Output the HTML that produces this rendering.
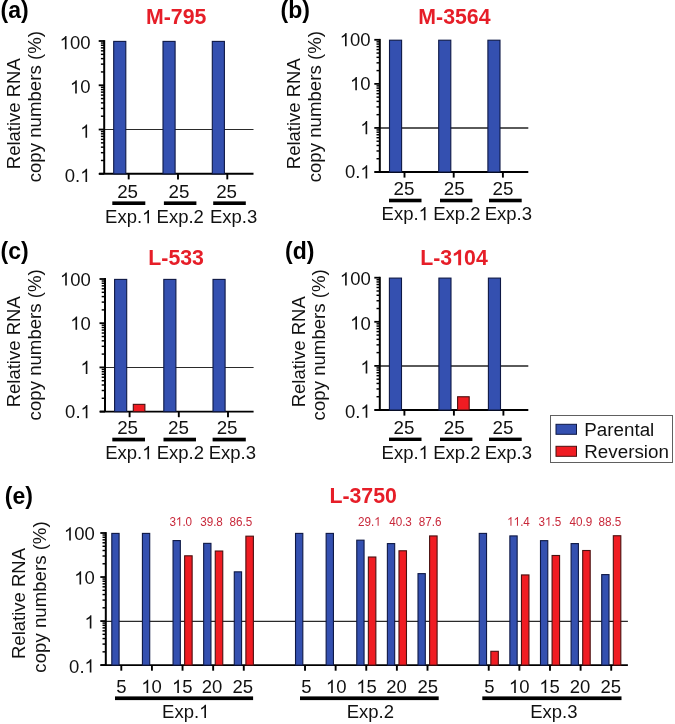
<!DOCTYPE html><html><head><meta charset="utf-8"><style>html,body{margin:0;padding:0;background:#fff;}svg{display:block;will-change:transform;}</style></head><body><svg width="675" height="724" viewBox="0 0 675 724" font-family="Liberation Sans, sans-serif">
<rect width="675" height="724" fill="#fff"/>
<line x1="104.2" y1="129.53" x2="253.5" y2="129.53" stroke="#2a2a2a" stroke-width="1.1"/>
<line x1="100.90" y1="160.47" x2="104.2" y2="160.47" stroke="#000" stroke-width="1.45"/>
<line x1="100.90" y1="152.68" x2="104.2" y2="152.68" stroke="#000" stroke-width="1.45"/>
<line x1="100.90" y1="147.15" x2="104.2" y2="147.15" stroke="#000" stroke-width="1.45"/>
<line x1="100.90" y1="142.86" x2="104.2" y2="142.86" stroke="#000" stroke-width="1.45"/>
<line x1="100.90" y1="139.35" x2="104.2" y2="139.35" stroke="#000" stroke-width="1.45"/>
<line x1="100.90" y1="136.39" x2="104.2" y2="136.39" stroke="#000" stroke-width="1.45"/>
<line x1="100.90" y1="133.82" x2="104.2" y2="133.82" stroke="#000" stroke-width="1.45"/>
<line x1="100.90" y1="131.56" x2="104.2" y2="131.56" stroke="#000" stroke-width="1.45"/>
<line x1="100.90" y1="116.21" x2="104.2" y2="116.21" stroke="#000" stroke-width="1.45"/>
<line x1="100.90" y1="108.41" x2="104.2" y2="108.41" stroke="#000" stroke-width="1.45"/>
<line x1="100.90" y1="102.88" x2="104.2" y2="102.88" stroke="#000" stroke-width="1.45"/>
<line x1="100.90" y1="98.59" x2="104.2" y2="98.59" stroke="#000" stroke-width="1.45"/>
<line x1="100.90" y1="95.09" x2="104.2" y2="95.09" stroke="#000" stroke-width="1.45"/>
<line x1="100.90" y1="92.12" x2="104.2" y2="92.12" stroke="#000" stroke-width="1.45"/>
<line x1="100.90" y1="89.56" x2="104.2" y2="89.56" stroke="#000" stroke-width="1.45"/>
<line x1="100.90" y1="87.29" x2="104.2" y2="87.29" stroke="#000" stroke-width="1.45"/>
<line x1="100.90" y1="71.94" x2="104.2" y2="71.94" stroke="#000" stroke-width="1.45"/>
<line x1="100.90" y1="64.15" x2="104.2" y2="64.15" stroke="#000" stroke-width="1.45"/>
<line x1="100.90" y1="58.62" x2="104.2" y2="58.62" stroke="#000" stroke-width="1.45"/>
<line x1="100.90" y1="54.33" x2="104.2" y2="54.33" stroke="#000" stroke-width="1.45"/>
<line x1="100.90" y1="50.82" x2="104.2" y2="50.82" stroke="#000" stroke-width="1.45"/>
<line x1="100.90" y1="47.86" x2="104.2" y2="47.86" stroke="#000" stroke-width="1.45"/>
<line x1="100.90" y1="45.29" x2="104.2" y2="45.29" stroke="#000" stroke-width="1.45"/>
<line x1="100.90" y1="43.03" x2="104.2" y2="43.03" stroke="#000" stroke-width="1.45"/>
<line x1="98.70" y1="41.00" x2="104.2" y2="41.00" stroke="#000" stroke-width="1.8"/>
<line x1="98.70" y1="85.27" x2="104.2" y2="85.27" stroke="#000" stroke-width="1.8"/>
<line x1="98.70" y1="129.53" x2="104.2" y2="129.53" stroke="#000" stroke-width="1.8"/>
<line x1="98.70" y1="173.80" x2="104.2" y2="173.80" stroke="#000" stroke-width="1.8"/>
<line x1="104.2" y1="40.10" x2="104.2" y2="173.80" stroke="#000" stroke-width="2"/>
<line x1="99.10" y1="173.80" x2="253.5" y2="173.80" stroke="#000" stroke-width="1.9"/>
<line x1="128.70" y1="173.80" x2="128.70" y2="179.40" stroke="#000" stroke-width="1.9"/>
<line x1="178.00" y1="173.80" x2="178.00" y2="179.40" stroke="#000" stroke-width="1.9"/>
<line x1="227.30" y1="173.80" x2="227.30" y2="179.40" stroke="#000" stroke-width="1.9"/>
<rect x="113.70" y="41.40" width="12.10" height="132.40" fill="#3450b0" stroke="#0e1845" stroke-width="1.1"/>
<text transform="translate(127.60,197.60) scale(1,0.98)" font-size="18.8" text-anchor="middle" font-weight="normal" fill="#111" style="font-kerning:none" >25</text>
<rect x="112.30" y="201.40" width="33.00" height="3.60" fill="#000"/>
<path transform="translate(142.11,223.30) scale(0.00903,-0.00939)" d="M763,0L583,0L583,1098Q518,1038 412.5,979Q307,920 223,890L223,1057Q374,1125 486.5,1221Q599,1317 646,1409L763,1409Z" fill="#111"/>
<text transform="translate(128.75,223.30) scale(1,1.04)" font-size="18.5" text-anchor="middle" font-weight="normal" fill="#111" style="font-kerning:none" >Exp. </text>
<rect x="163.00" y="41.40" width="12.10" height="132.40" fill="#3450b0" stroke="#0e1845" stroke-width="1.1"/>
<text transform="translate(178.90,197.60) scale(1,0.98)" font-size="18.8" text-anchor="middle" font-weight="normal" fill="#111" style="font-kerning:none" >25</text>
<rect x="163.90" y="201.40" width="32.50" height="3.60" fill="#000"/>
<text transform="translate(180.25,223.30) scale(1,1.04)" font-size="18.5" text-anchor="middle" font-weight="normal" fill="#111" style="font-kerning:none" >Exp.2</text>
<rect x="212.30" y="41.40" width="12.10" height="132.40" fill="#3450b0" stroke="#0e1845" stroke-width="1.1"/>
<text transform="translate(226.60,197.60) scale(1,0.98)" font-size="18.8" text-anchor="middle" font-weight="normal" fill="#111" style="font-kerning:none" >25</text>
<rect x="213.20" y="201.40" width="32.60" height="3.60" fill="#000"/>
<text transform="translate(233.60,223.30) scale(1,1.04)" font-size="18.5" text-anchor="middle" font-weight="normal" fill="#111" style="font-kerning:none" >Exp.3</text>
<path transform="translate(59.63,49.21) scale(0.00903,-0.00939)" d="M763,0L583,0L583,1098Q518,1038 412.5,979Q307,920 223,890L223,1057Q374,1125 486.5,1221Q599,1317 646,1409L763,1409Z" fill="#111"/>
<text transform="translate(90.50,49.21) scale(1,1.04)" font-size="18.5" text-anchor="end" font-weight="normal" fill="#111" style="font-kerning:none" > 00</text>
<path transform="translate(69.92,93.48) scale(0.00903,-0.00939)" d="M763,0L583,0L583,1098Q518,1038 412.5,979Q307,920 223,890L223,1057Q374,1125 486.5,1221Q599,1317 646,1409L763,1409Z" fill="#111"/>
<text transform="translate(90.50,93.48) scale(1,1.04)" font-size="18.5" text-anchor="end" font-weight="normal" fill="#111" style="font-kerning:none" > 0</text>
<path transform="translate(80.21,137.75) scale(0.00903,-0.00939)" d="M763,0L583,0L583,1098Q518,1038 412.5,979Q307,920 223,890L223,1057Q374,1125 486.5,1221Q599,1317 646,1409L763,1409Z" fill="#111"/>
<text transform="translate(90.50,137.75) scale(1,1.04)" font-size="18.5" text-anchor="end" font-weight="normal" fill="#111" style="font-kerning:none" > </text>
<path transform="translate(80.21,182.01) scale(0.00903,-0.00939)" d="M763,0L583,0L583,1098Q518,1038 412.5,979Q307,920 223,890L223,1057Q374,1125 486.5,1221Q599,1317 646,1409L763,1409Z" fill="#111"/>
<text transform="translate(90.50,182.01) scale(1,1.04)" font-size="18.5" text-anchor="end" font-weight="normal" fill="#111" style="font-kerning:none" >0. </text>
<text transform="translate(176.20,23.60) scale(1,1.05)" font-size="21.3" text-anchor="middle" font-weight="bold" fill="#e61e28" style="font-kerning:none" >M-795</text>
<text transform="translate(0.50,18.30) scale(1,1.0)" font-size="23" text-anchor="start" font-weight="bold" fill="#000" style="font-kerning:none" >(a)</text>
<text transform="translate(20.40,113.70) rotate(-90)" font-size="18.5" text-anchor="middle" fill="#111" style="font-kerning:none">Relative RNA</text>
<text transform="translate(40.70,106.70) rotate(-90)" font-size="18.65" text-anchor="middle" fill="#111" style="font-kerning:none">copy numbers (%)</text>
<line x1="379.8" y1="127.93" x2="528.3" y2="127.93" stroke="#5a5a5a" stroke-width="2.0"/>
<line x1="376.50" y1="158.73" x2="379.8" y2="158.73" stroke="#000" stroke-width="1.45"/>
<line x1="376.50" y1="150.97" x2="379.8" y2="150.97" stroke="#000" stroke-width="1.45"/>
<line x1="376.50" y1="145.47" x2="379.8" y2="145.47" stroke="#000" stroke-width="1.45"/>
<line x1="376.50" y1="141.20" x2="379.8" y2="141.20" stroke="#000" stroke-width="1.45"/>
<line x1="376.50" y1="137.71" x2="379.8" y2="137.71" stroke="#000" stroke-width="1.45"/>
<line x1="376.50" y1="134.76" x2="379.8" y2="134.76" stroke="#000" stroke-width="1.45"/>
<line x1="376.50" y1="132.20" x2="379.8" y2="132.20" stroke="#000" stroke-width="1.45"/>
<line x1="376.50" y1="129.95" x2="379.8" y2="129.95" stroke="#000" stroke-width="1.45"/>
<line x1="376.50" y1="114.67" x2="379.8" y2="114.67" stroke="#000" stroke-width="1.45"/>
<line x1="376.50" y1="106.91" x2="379.8" y2="106.91" stroke="#000" stroke-width="1.45"/>
<line x1="376.50" y1="101.40" x2="379.8" y2="101.40" stroke="#000" stroke-width="1.45"/>
<line x1="376.50" y1="97.13" x2="379.8" y2="97.13" stroke="#000" stroke-width="1.45"/>
<line x1="376.50" y1="93.64" x2="379.8" y2="93.64" stroke="#000" stroke-width="1.45"/>
<line x1="376.50" y1="90.69" x2="379.8" y2="90.69" stroke="#000" stroke-width="1.45"/>
<line x1="376.50" y1="88.14" x2="379.8" y2="88.14" stroke="#000" stroke-width="1.45"/>
<line x1="376.50" y1="85.88" x2="379.8" y2="85.88" stroke="#000" stroke-width="1.45"/>
<line x1="376.50" y1="70.60" x2="379.8" y2="70.60" stroke="#000" stroke-width="1.45"/>
<line x1="376.50" y1="62.84" x2="379.8" y2="62.84" stroke="#000" stroke-width="1.45"/>
<line x1="376.50" y1="57.34" x2="379.8" y2="57.34" stroke="#000" stroke-width="1.45"/>
<line x1="376.50" y1="53.07" x2="379.8" y2="53.07" stroke="#000" stroke-width="1.45"/>
<line x1="376.50" y1="49.58" x2="379.8" y2="49.58" stroke="#000" stroke-width="1.45"/>
<line x1="376.50" y1="46.63" x2="379.8" y2="46.63" stroke="#000" stroke-width="1.45"/>
<line x1="376.50" y1="44.07" x2="379.8" y2="44.07" stroke="#000" stroke-width="1.45"/>
<line x1="376.50" y1="41.82" x2="379.8" y2="41.82" stroke="#000" stroke-width="1.45"/>
<line x1="374.30" y1="39.80" x2="379.8" y2="39.80" stroke="#000" stroke-width="1.8"/>
<line x1="374.30" y1="83.87" x2="379.8" y2="83.87" stroke="#000" stroke-width="1.8"/>
<line x1="374.30" y1="127.93" x2="379.8" y2="127.93" stroke="#000" stroke-width="1.8"/>
<line x1="374.30" y1="172.00" x2="379.8" y2="172.00" stroke="#000" stroke-width="1.8"/>
<line x1="379.8" y1="38.90" x2="379.8" y2="172.00" stroke="#000" stroke-width="2"/>
<line x1="374.70" y1="172.00" x2="528.3" y2="172.00" stroke="#000" stroke-width="1.9"/>
<line x1="404.50" y1="172.00" x2="404.50" y2="177.60" stroke="#000" stroke-width="1.9"/>
<line x1="453.70" y1="172.00" x2="453.70" y2="177.60" stroke="#000" stroke-width="1.9"/>
<line x1="502.90" y1="172.00" x2="502.90" y2="177.60" stroke="#000" stroke-width="1.9"/>
<rect x="389.50" y="40.20" width="12.10" height="131.80" fill="#3450b0" stroke="#0e1845" stroke-width="1.1"/>
<text transform="translate(404.00,194.80) scale(1,0.98)" font-size="18.8" text-anchor="middle" font-weight="normal" fill="#111" style="font-kerning:none" >25</text>
<rect x="389.00" y="198.70" width="32.50" height="3.60" fill="#000"/>
<path transform="translate(418.61,220.20) scale(0.00903,-0.00939)" d="M763,0L583,0L583,1098Q518,1038 412.5,979Q307,920 223,890L223,1057Q374,1125 486.5,1221Q599,1317 646,1409L763,1409Z" fill="#111"/>
<text transform="translate(405.25,220.20) scale(1,1.04)" font-size="18.5" text-anchor="middle" font-weight="normal" fill="#111" style="font-kerning:none" >Exp. </text>
<rect x="438.70" y="40.20" width="12.10" height="131.80" fill="#3450b0" stroke="#0e1845" stroke-width="1.1"/>
<text transform="translate(454.30,194.80) scale(1,0.98)" font-size="18.8" text-anchor="middle" font-weight="normal" fill="#111" style="font-kerning:none" >25</text>
<rect x="440.00" y="198.70" width="32.40" height="3.60" fill="#000"/>
<text transform="translate(456.80,220.20) scale(1,1.04)" font-size="18.5" text-anchor="middle" font-weight="normal" fill="#111" style="font-kerning:none" >Exp.2</text>
<rect x="487.90" y="40.20" width="12.10" height="131.80" fill="#3450b0" stroke="#0e1845" stroke-width="1.1"/>
<text transform="translate(503.00,194.80) scale(1,0.98)" font-size="18.8" text-anchor="middle" font-weight="normal" fill="#111" style="font-kerning:none" >25</text>
<rect x="489.00" y="198.70" width="32.70" height="3.60" fill="#000"/>
<text transform="translate(508.30,220.20) scale(1,1.04)" font-size="18.5" text-anchor="middle" font-weight="normal" fill="#111" style="font-kerning:none" >Exp.3</text>
<path transform="translate(339.73,46.21) scale(0.00903,-0.00939)" d="M763,0L583,0L583,1098Q518,1038 412.5,979Q307,920 223,890L223,1057Q374,1125 486.5,1221Q599,1317 646,1409L763,1409Z" fill="#111"/>
<text transform="translate(370.60,46.21) scale(1,1.04)" font-size="18.5" text-anchor="end" font-weight="normal" fill="#111" style="font-kerning:none" > 00</text>
<path transform="translate(350.02,90.28) scale(0.00903,-0.00939)" d="M763,0L583,0L583,1098Q518,1038 412.5,979Q307,920 223,890L223,1057Q374,1125 486.5,1221Q599,1317 646,1409L763,1409Z" fill="#111"/>
<text transform="translate(370.60,90.28) scale(1,1.04)" font-size="18.5" text-anchor="end" font-weight="normal" fill="#111" style="font-kerning:none" > 0</text>
<path transform="translate(360.31,134.35) scale(0.00903,-0.00939)" d="M763,0L583,0L583,1098Q518,1038 412.5,979Q307,920 223,890L223,1057Q374,1125 486.5,1221Q599,1317 646,1409L763,1409Z" fill="#111"/>
<text transform="translate(370.60,134.35) scale(1,1.04)" font-size="18.5" text-anchor="end" font-weight="normal" fill="#111" style="font-kerning:none" > </text>
<path transform="translate(360.31,178.41) scale(0.00903,-0.00939)" d="M763,0L583,0L583,1098Q518,1038 412.5,979Q307,920 223,890L223,1057Q374,1125 486.5,1221Q599,1317 646,1409L763,1409Z" fill="#111"/>
<text transform="translate(370.60,178.41) scale(1,1.04)" font-size="18.5" text-anchor="end" font-weight="normal" fill="#111" style="font-kerning:none" >0. </text>
<text transform="translate(454.40,23.60) scale(1,1.05)" font-size="21.3" text-anchor="middle" font-weight="bold" fill="#e61e28" style="font-kerning:none" >M-3564</text>
<text transform="translate(280.50,18.40) scale(1,1.0)" font-size="23" text-anchor="start" font-weight="bold" fill="#000" style="font-kerning:none" >(b)</text>
<text transform="translate(300.40,113.70) rotate(-90)" font-size="18.5" text-anchor="middle" fill="#111" style="font-kerning:none">Relative RNA</text>
<text transform="translate(320.70,106.70) rotate(-90)" font-size="18.65" text-anchor="middle" fill="#111" style="font-kerning:none">copy numbers (%)</text>
<line x1="105.0" y1="367.50" x2="253.6" y2="367.50" stroke="#2a2a2a" stroke-width="1.1"/>
<line x1="101.70" y1="398.29" x2="105.0" y2="398.29" stroke="#000" stroke-width="1.45"/>
<line x1="101.70" y1="390.51" x2="105.0" y2="390.51" stroke="#000" stroke-width="1.45"/>
<line x1="101.70" y1="384.99" x2="105.0" y2="384.99" stroke="#000" stroke-width="1.45"/>
<line x1="101.70" y1="380.71" x2="105.0" y2="380.71" stroke="#000" stroke-width="1.45"/>
<line x1="101.70" y1="377.21" x2="105.0" y2="377.21" stroke="#000" stroke-width="1.45"/>
<line x1="101.70" y1="374.25" x2="105.0" y2="374.25" stroke="#000" stroke-width="1.45"/>
<line x1="101.70" y1="371.68" x2="105.0" y2="371.68" stroke="#000" stroke-width="1.45"/>
<line x1="101.70" y1="369.42" x2="105.0" y2="369.42" stroke="#000" stroke-width="1.45"/>
<line x1="101.70" y1="354.09" x2="105.0" y2="354.09" stroke="#000" stroke-width="1.45"/>
<line x1="101.70" y1="346.31" x2="105.0" y2="346.31" stroke="#000" stroke-width="1.45"/>
<line x1="101.70" y1="340.79" x2="105.0" y2="340.79" stroke="#000" stroke-width="1.45"/>
<line x1="101.70" y1="336.51" x2="105.0" y2="336.51" stroke="#000" stroke-width="1.45"/>
<line x1="101.70" y1="333.01" x2="105.0" y2="333.01" stroke="#000" stroke-width="1.45"/>
<line x1="101.70" y1="330.05" x2="105.0" y2="330.05" stroke="#000" stroke-width="1.45"/>
<line x1="101.70" y1="327.48" x2="105.0" y2="327.48" stroke="#000" stroke-width="1.45"/>
<line x1="101.70" y1="325.22" x2="105.0" y2="325.22" stroke="#000" stroke-width="1.45"/>
<line x1="101.70" y1="309.89" x2="105.0" y2="309.89" stroke="#000" stroke-width="1.45"/>
<line x1="101.70" y1="302.11" x2="105.0" y2="302.11" stroke="#000" stroke-width="1.45"/>
<line x1="101.70" y1="296.59" x2="105.0" y2="296.59" stroke="#000" stroke-width="1.45"/>
<line x1="101.70" y1="292.31" x2="105.0" y2="292.31" stroke="#000" stroke-width="1.45"/>
<line x1="101.70" y1="288.81" x2="105.0" y2="288.81" stroke="#000" stroke-width="1.45"/>
<line x1="101.70" y1="285.85" x2="105.0" y2="285.85" stroke="#000" stroke-width="1.45"/>
<line x1="101.70" y1="283.28" x2="105.0" y2="283.28" stroke="#000" stroke-width="1.45"/>
<line x1="101.70" y1="281.02" x2="105.0" y2="281.02" stroke="#000" stroke-width="1.45"/>
<line x1="99.50" y1="279.00" x2="105.0" y2="279.00" stroke="#000" stroke-width="1.8"/>
<line x1="99.50" y1="323.20" x2="105.0" y2="323.20" stroke="#000" stroke-width="1.8"/>
<line x1="99.50" y1="367.40" x2="105.0" y2="367.40" stroke="#000" stroke-width="1.8"/>
<line x1="99.50" y1="411.60" x2="105.0" y2="411.60" stroke="#000" stroke-width="1.8"/>
<line x1="105.0" y1="278.10" x2="105.0" y2="411.60" stroke="#000" stroke-width="2"/>
<line x1="99.90" y1="411.60" x2="253.6" y2="411.60" stroke="#000" stroke-width="1.9"/>
<line x1="129.60" y1="411.60" x2="129.60" y2="417.20" stroke="#000" stroke-width="1.9"/>
<line x1="178.80" y1="411.60" x2="178.80" y2="417.20" stroke="#000" stroke-width="1.9"/>
<line x1="228.00" y1="411.60" x2="228.00" y2="417.20" stroke="#000" stroke-width="1.9"/>
<rect x="114.60" y="279.40" width="12.10" height="132.20" fill="#3450b0" stroke="#0e1845" stroke-width="1.1"/>
<rect x="133.30" y="404.35" width="11.60" height="7.25" fill="#f01c22" stroke="#4a1010" stroke-width="1.1"/>
<text transform="translate(127.60,433.80) scale(1,0.98)" font-size="18.8" text-anchor="middle" font-weight="normal" fill="#111" style="font-kerning:none" >25</text>
<rect x="112.30" y="437.70" width="32.70" height="3.70" fill="#000"/>
<path transform="translate(142.16,459.20) scale(0.00903,-0.00939)" d="M763,0L583,0L583,1098Q518,1038 412.5,979Q307,920 223,890L223,1057Q374,1125 486.5,1221Q599,1317 646,1409L763,1409Z" fill="#111"/>
<text transform="translate(128.80,459.20) scale(1,1.04)" font-size="18.5" text-anchor="middle" font-weight="normal" fill="#111" style="font-kerning:none" >Exp. </text>
<rect x="163.80" y="279.40" width="12.10" height="132.20" fill="#3450b0" stroke="#0e1845" stroke-width="1.1"/>
<text transform="translate(178.50,433.80) scale(1,0.98)" font-size="18.8" text-anchor="middle" font-weight="normal" fill="#111" style="font-kerning:none" >25</text>
<rect x="163.50" y="437.70" width="32.50" height="3.70" fill="#000"/>
<text transform="translate(180.30,459.20) scale(1,1.04)" font-size="18.5" text-anchor="middle" font-weight="normal" fill="#111" style="font-kerning:none" >Exp.2</text>
<rect x="213.00" y="279.40" width="12.10" height="132.20" fill="#3450b0" stroke="#0e1845" stroke-width="1.1"/>
<text transform="translate(227.10,433.80) scale(1,0.98)" font-size="18.8" text-anchor="middle" font-weight="normal" fill="#111" style="font-kerning:none" >25</text>
<rect x="212.60" y="437.70" width="33.20" height="3.70" fill="#000"/>
<text transform="translate(232.40,459.20) scale(1,1.04)" font-size="18.5" text-anchor="middle" font-weight="normal" fill="#111" style="font-kerning:none" >Exp.3</text>
<path transform="translate(59.93,285.61) scale(0.00903,-0.00939)" d="M763,0L583,0L583,1098Q518,1038 412.5,979Q307,920 223,890L223,1057Q374,1125 486.5,1221Q599,1317 646,1409L763,1409Z" fill="#111"/>
<text transform="translate(90.80,285.61) scale(1,1.04)" font-size="18.5" text-anchor="end" font-weight="normal" fill="#111" style="font-kerning:none" > 00</text>
<path transform="translate(70.22,329.81) scale(0.00903,-0.00939)" d="M763,0L583,0L583,1098Q518,1038 412.5,979Q307,920 223,890L223,1057Q374,1125 486.5,1221Q599,1317 646,1409L763,1409Z" fill="#111"/>
<text transform="translate(90.80,329.81) scale(1,1.04)" font-size="18.5" text-anchor="end" font-weight="normal" fill="#111" style="font-kerning:none" > 0</text>
<path transform="translate(80.51,374.01) scale(0.00903,-0.00939)" d="M763,0L583,0L583,1098Q518,1038 412.5,979Q307,920 223,890L223,1057Q374,1125 486.5,1221Q599,1317 646,1409L763,1409Z" fill="#111"/>
<text transform="translate(90.80,374.01) scale(1,1.04)" font-size="18.5" text-anchor="end" font-weight="normal" fill="#111" style="font-kerning:none" > </text>
<path transform="translate(80.51,418.21) scale(0.00903,-0.00939)" d="M763,0L583,0L583,1098Q518,1038 412.5,979Q307,920 223,890L223,1057Q374,1125 486.5,1221Q599,1317 646,1409L763,1409Z" fill="#111"/>
<text transform="translate(90.80,418.21) scale(1,1.04)" font-size="18.5" text-anchor="end" font-weight="normal" fill="#111" style="font-kerning:none" >0. </text>
<text transform="translate(176.10,264.80) scale(1,1.05)" font-size="21.3" text-anchor="middle" font-weight="bold" fill="#e61e28" style="font-kerning:none" >L-533</text>
<text transform="translate(0.50,259.10) scale(1,1.0)" font-size="23" text-anchor="start" font-weight="bold" fill="#000" style="font-kerning:none" >(c)</text>
<text transform="translate(20.40,351.80) rotate(-90)" font-size="18.5" text-anchor="middle" fill="#111" style="font-kerning:none">Relative RNA</text>
<text transform="translate(40.70,344.80) rotate(-90)" font-size="18.65" text-anchor="middle" fill="#111" style="font-kerning:none">copy numbers (%)</text>
<line x1="379.8" y1="365.90" x2="528.3" y2="365.90" stroke="#5a5a5a" stroke-width="2.0"/>
<line x1="376.50" y1="396.72" x2="379.8" y2="396.72" stroke="#000" stroke-width="1.45"/>
<line x1="376.50" y1="388.96" x2="379.8" y2="388.96" stroke="#000" stroke-width="1.45"/>
<line x1="376.50" y1="383.45" x2="379.8" y2="383.45" stroke="#000" stroke-width="1.45"/>
<line x1="376.50" y1="379.18" x2="379.8" y2="379.18" stroke="#000" stroke-width="1.45"/>
<line x1="376.50" y1="375.68" x2="379.8" y2="375.68" stroke="#000" stroke-width="1.45"/>
<line x1="376.50" y1="372.73" x2="379.8" y2="372.73" stroke="#000" stroke-width="1.45"/>
<line x1="376.50" y1="370.17" x2="379.8" y2="370.17" stroke="#000" stroke-width="1.45"/>
<line x1="376.50" y1="367.92" x2="379.8" y2="367.92" stroke="#000" stroke-width="1.45"/>
<line x1="376.50" y1="352.62" x2="379.8" y2="352.62" stroke="#000" stroke-width="1.45"/>
<line x1="376.50" y1="344.86" x2="379.8" y2="344.86" stroke="#000" stroke-width="1.45"/>
<line x1="376.50" y1="339.35" x2="379.8" y2="339.35" stroke="#000" stroke-width="1.45"/>
<line x1="376.50" y1="335.08" x2="379.8" y2="335.08" stroke="#000" stroke-width="1.45"/>
<line x1="376.50" y1="331.58" x2="379.8" y2="331.58" stroke="#000" stroke-width="1.45"/>
<line x1="376.50" y1="328.63" x2="379.8" y2="328.63" stroke="#000" stroke-width="1.45"/>
<line x1="376.50" y1="326.07" x2="379.8" y2="326.07" stroke="#000" stroke-width="1.45"/>
<line x1="376.50" y1="323.82" x2="379.8" y2="323.82" stroke="#000" stroke-width="1.45"/>
<line x1="376.50" y1="308.52" x2="379.8" y2="308.52" stroke="#000" stroke-width="1.45"/>
<line x1="376.50" y1="300.76" x2="379.8" y2="300.76" stroke="#000" stroke-width="1.45"/>
<line x1="376.50" y1="295.25" x2="379.8" y2="295.25" stroke="#000" stroke-width="1.45"/>
<line x1="376.50" y1="290.98" x2="379.8" y2="290.98" stroke="#000" stroke-width="1.45"/>
<line x1="376.50" y1="287.48" x2="379.8" y2="287.48" stroke="#000" stroke-width="1.45"/>
<line x1="376.50" y1="284.53" x2="379.8" y2="284.53" stroke="#000" stroke-width="1.45"/>
<line x1="376.50" y1="281.97" x2="379.8" y2="281.97" stroke="#000" stroke-width="1.45"/>
<line x1="376.50" y1="279.72" x2="379.8" y2="279.72" stroke="#000" stroke-width="1.45"/>
<line x1="374.30" y1="277.70" x2="379.8" y2="277.70" stroke="#000" stroke-width="1.8"/>
<line x1="374.30" y1="321.80" x2="379.8" y2="321.80" stroke="#000" stroke-width="1.8"/>
<line x1="374.30" y1="365.90" x2="379.8" y2="365.90" stroke="#000" stroke-width="1.8"/>
<line x1="374.30" y1="410.00" x2="379.8" y2="410.00" stroke="#000" stroke-width="1.8"/>
<line x1="379.8" y1="276.80" x2="379.8" y2="410.00" stroke="#000" stroke-width="2"/>
<line x1="374.70" y1="410.00" x2="528.3" y2="410.00" stroke="#000" stroke-width="1.9"/>
<line x1="404.40" y1="410.00" x2="404.40" y2="415.60" stroke="#000" stroke-width="1.9"/>
<line x1="453.90" y1="410.00" x2="453.90" y2="415.60" stroke="#000" stroke-width="1.9"/>
<line x1="503.40" y1="410.00" x2="503.40" y2="415.60" stroke="#000" stroke-width="1.9"/>
<rect x="389.40" y="278.10" width="12.10" height="131.90" fill="#3450b0" stroke="#0e1845" stroke-width="1.1"/>
<text transform="translate(404.00,433.70) scale(1,0.98)" font-size="18.8" text-anchor="middle" font-weight="normal" fill="#111" style="font-kerning:none" >25</text>
<rect x="389.00" y="437.60" width="32.50" height="3.40" fill="#000"/>
<path transform="translate(418.61,459.00) scale(0.00903,-0.00939)" d="M763,0L583,0L583,1098Q518,1038 412.5,979Q307,920 223,890L223,1057Q374,1125 486.5,1221Q599,1317 646,1409L763,1409Z" fill="#111"/>
<text transform="translate(405.25,459.00) scale(1,1.04)" font-size="18.5" text-anchor="middle" font-weight="normal" fill="#111" style="font-kerning:none" >Exp. </text>
<rect x="438.90" y="278.10" width="12.10" height="131.90" fill="#3450b0" stroke="#0e1845" stroke-width="1.1"/>
<rect x="457.60" y="396.75" width="11.60" height="13.25" fill="#f01c22" stroke="#4a1010" stroke-width="1.1"/>
<text transform="translate(454.30,433.70) scale(1,0.98)" font-size="18.8" text-anchor="middle" font-weight="normal" fill="#111" style="font-kerning:none" >25</text>
<rect x="440.00" y="437.60" width="32.40" height="3.40" fill="#000"/>
<text transform="translate(456.80,459.00) scale(1,1.04)" font-size="18.5" text-anchor="middle" font-weight="normal" fill="#111" style="font-kerning:none" >Exp.2</text>
<rect x="488.40" y="278.10" width="12.10" height="131.90" fill="#3450b0" stroke="#0e1845" stroke-width="1.1"/>
<text transform="translate(503.00,433.70) scale(1,0.98)" font-size="18.8" text-anchor="middle" font-weight="normal" fill="#111" style="font-kerning:none" >25</text>
<rect x="489.00" y="437.60" width="32.70" height="3.40" fill="#000"/>
<text transform="translate(508.30,459.00) scale(1,1.04)" font-size="18.5" text-anchor="middle" font-weight="normal" fill="#111" style="font-kerning:none" >Exp.3</text>
<path transform="translate(339.83,285.41) scale(0.00903,-0.00939)" d="M763,0L583,0L583,1098Q518,1038 412.5,979Q307,920 223,890L223,1057Q374,1125 486.5,1221Q599,1317 646,1409L763,1409Z" fill="#111"/>
<text transform="translate(370.70,285.41) scale(1,1.04)" font-size="18.5" text-anchor="end" font-weight="normal" fill="#111" style="font-kerning:none" > 00</text>
<path transform="translate(350.12,329.51) scale(0.00903,-0.00939)" d="M763,0L583,0L583,1098Q518,1038 412.5,979Q307,920 223,890L223,1057Q374,1125 486.5,1221Q599,1317 646,1409L763,1409Z" fill="#111"/>
<text transform="translate(370.70,329.51) scale(1,1.04)" font-size="18.5" text-anchor="end" font-weight="normal" fill="#111" style="font-kerning:none" > 0</text>
<path transform="translate(360.41,373.61) scale(0.00903,-0.00939)" d="M763,0L583,0L583,1098Q518,1038 412.5,979Q307,920 223,890L223,1057Q374,1125 486.5,1221Q599,1317 646,1409L763,1409Z" fill="#111"/>
<text transform="translate(370.70,373.61) scale(1,1.04)" font-size="18.5" text-anchor="end" font-weight="normal" fill="#111" style="font-kerning:none" > </text>
<path transform="translate(360.41,417.71) scale(0.00903,-0.00939)" d="M763,0L583,0L583,1098Q518,1038 412.5,979Q307,920 223,890L223,1057Q374,1125 486.5,1221Q599,1317 646,1409L763,1409Z" fill="#111"/>
<text transform="translate(370.70,417.71) scale(1,1.04)" font-size="18.5" text-anchor="end" font-weight="normal" fill="#111" style="font-kerning:none" >0. </text>
<path transform="translate(452.21,265.20) scale(0.01040,-0.01092)" d="M856,0L575,0L575,1040Q440,930 300,880Q225,853 150,835L150,1080Q300,1130 440,1235Q580,1340 650,1409L856,1409Z" fill="#e61e28"/>
<text transform="translate(454.00,265.20) scale(1,1.05)" font-size="21.3" text-anchor="middle" font-weight="bold" fill="#e61e28" style="font-kerning:none" >L-3 04</text>
<text transform="translate(285.00,258.70) scale(1,1.0)" font-size="23" text-anchor="start" font-weight="bold" fill="#000" style="font-kerning:none" >(d)</text>
<text transform="translate(304.60,351.80) rotate(-90)" font-size="18.5" text-anchor="middle" fill="#111" style="font-kerning:none">Relative RNA</text>
<text transform="translate(324.90,344.80) rotate(-90)" font-size="18.65" text-anchor="middle" fill="#111" style="font-kerning:none">copy numbers (%)</text>
<rect x="550.5" y="415.5" width="122" height="47" fill="#fff" stroke="#606060" stroke-width="1"/>
<rect x="556" y="424.3" width="20.5" height="10" fill="#3450b0" stroke="#0e1845" stroke-width="1"/>
<rect x="556" y="446.3" width="20.5" height="10" fill="#f01c22" stroke="#4a1010" stroke-width="1"/>
<text transform="translate(584.30,436.20) scale(1,1.0)" font-size="18.8" text-anchor="start" font-weight="normal" fill="#111" style="font-kerning:none" >Parental</text>
<text transform="translate(584.30,458.00) scale(1,1.0)" font-size="18.8" text-anchor="start" font-weight="normal" fill="#111" style="font-kerning:none" >Reversion</text>
<line x1="105.8" y1="621.30" x2="627.9" y2="621.30" stroke="#2a2a2a" stroke-width="1.2"/>
<line x1="102.50" y1="651.84" x2="105.8" y2="651.84" stroke="#000" stroke-width="1.45"/>
<line x1="102.50" y1="644.09" x2="105.8" y2="644.09" stroke="#000" stroke-width="1.45"/>
<line x1="102.50" y1="638.59" x2="105.8" y2="638.59" stroke="#000" stroke-width="1.45"/>
<line x1="102.50" y1="634.32" x2="105.8" y2="634.32" stroke="#000" stroke-width="1.45"/>
<line x1="102.50" y1="630.84" x2="105.8" y2="630.84" stroke="#000" stroke-width="1.45"/>
<line x1="102.50" y1="627.89" x2="105.8" y2="627.89" stroke="#000" stroke-width="1.45"/>
<line x1="102.50" y1="625.33" x2="105.8" y2="625.33" stroke="#000" stroke-width="1.45"/>
<line x1="102.50" y1="623.08" x2="105.8" y2="623.08" stroke="#000" stroke-width="1.45"/>
<line x1="102.50" y1="607.81" x2="105.8" y2="607.81" stroke="#000" stroke-width="1.45"/>
<line x1="102.50" y1="600.06" x2="105.8" y2="600.06" stroke="#000" stroke-width="1.45"/>
<line x1="102.50" y1="594.56" x2="105.8" y2="594.56" stroke="#000" stroke-width="1.45"/>
<line x1="102.50" y1="590.29" x2="105.8" y2="590.29" stroke="#000" stroke-width="1.45"/>
<line x1="102.50" y1="586.80" x2="105.8" y2="586.80" stroke="#000" stroke-width="1.45"/>
<line x1="102.50" y1="583.85" x2="105.8" y2="583.85" stroke="#000" stroke-width="1.45"/>
<line x1="102.50" y1="581.30" x2="105.8" y2="581.30" stroke="#000" stroke-width="1.45"/>
<line x1="102.50" y1="579.05" x2="105.8" y2="579.05" stroke="#000" stroke-width="1.45"/>
<line x1="102.50" y1="563.78" x2="105.8" y2="563.78" stroke="#000" stroke-width="1.45"/>
<line x1="102.50" y1="556.02" x2="105.8" y2="556.02" stroke="#000" stroke-width="1.45"/>
<line x1="102.50" y1="550.52" x2="105.8" y2="550.52" stroke="#000" stroke-width="1.45"/>
<line x1="102.50" y1="546.26" x2="105.8" y2="546.26" stroke="#000" stroke-width="1.45"/>
<line x1="102.50" y1="542.77" x2="105.8" y2="542.77" stroke="#000" stroke-width="1.45"/>
<line x1="102.50" y1="539.82" x2="105.8" y2="539.82" stroke="#000" stroke-width="1.45"/>
<line x1="102.50" y1="537.27" x2="105.8" y2="537.27" stroke="#000" stroke-width="1.45"/>
<line x1="102.50" y1="535.01" x2="105.8" y2="535.01" stroke="#000" stroke-width="1.45"/>
<line x1="100.30" y1="533.00" x2="105.8" y2="533.00" stroke="#000" stroke-width="1.8"/>
<line x1="100.30" y1="577.03" x2="105.8" y2="577.03" stroke="#000" stroke-width="1.8"/>
<line x1="100.30" y1="621.07" x2="105.8" y2="621.07" stroke="#000" stroke-width="1.8"/>
<line x1="100.30" y1="665.10" x2="105.8" y2="665.10" stroke="#000" stroke-width="1.8"/>
<line x1="105.8" y1="532.10" x2="105.8" y2="665.10" stroke="#000" stroke-width="2"/>
<line x1="100.70" y1="665.10" x2="627.9" y2="665.10" stroke="#000" stroke-width="1.9"/>
<line x1="121.30" y1="665.10" x2="121.30" y2="670.70" stroke="#000" stroke-width="1.9"/>
<line x1="151.92" y1="665.10" x2="151.92" y2="670.70" stroke="#000" stroke-width="1.9"/>
<line x1="182.54" y1="665.10" x2="182.54" y2="670.70" stroke="#000" stroke-width="1.9"/>
<line x1="213.16" y1="665.10" x2="213.16" y2="670.70" stroke="#000" stroke-width="1.9"/>
<line x1="243.78" y1="665.10" x2="243.78" y2="670.70" stroke="#000" stroke-width="1.9"/>
<line x1="305.02" y1="665.10" x2="305.02" y2="670.70" stroke="#000" stroke-width="1.9"/>
<line x1="335.64" y1="665.10" x2="335.64" y2="670.70" stroke="#000" stroke-width="1.9"/>
<line x1="366.26" y1="665.10" x2="366.26" y2="670.70" stroke="#000" stroke-width="1.9"/>
<line x1="396.88" y1="665.10" x2="396.88" y2="670.70" stroke="#000" stroke-width="1.9"/>
<line x1="427.50" y1="665.10" x2="427.50" y2="670.70" stroke="#000" stroke-width="1.9"/>
<line x1="488.74" y1="665.10" x2="488.74" y2="670.70" stroke="#000" stroke-width="1.9"/>
<line x1="519.36" y1="665.10" x2="519.36" y2="670.70" stroke="#000" stroke-width="1.9"/>
<line x1="549.98" y1="665.10" x2="549.98" y2="670.70" stroke="#000" stroke-width="1.9"/>
<line x1="580.60" y1="665.10" x2="580.60" y2="670.70" stroke="#000" stroke-width="1.9"/>
<line x1="611.22" y1="665.10" x2="611.22" y2="670.70" stroke="#000" stroke-width="1.9"/>
<rect x="111.80" y="533.40" width="7.30" height="131.70" fill="#3450b0" stroke="#0e1845" stroke-width="1.1"/>
<text transform="translate(121.30,693.00) scale(1,1.04)" font-size="18.5" text-anchor="middle" font-weight="normal" fill="#111" style="font-kerning:none" >5</text>
<rect x="142.42" y="533.40" width="7.30" height="131.70" fill="#3450b0" stroke="#0e1845" stroke-width="1.1"/>
<path transform="translate(141.31,693.00) scale(0.00903,-0.00939)" d="M763,0L583,0L583,1098Q518,1038 412.5,979Q307,920 223,890L223,1057Q374,1125 486.5,1221Q599,1317 646,1409L763,1409Z" fill="#111"/>
<text transform="translate(151.60,693.00) scale(1,1.04)" font-size="18.5" text-anchor="middle" font-weight="normal" fill="#111" style="font-kerning:none" > 0</text>
<rect x="173.04" y="540.58" width="7.30" height="124.52" fill="#3450b0" stroke="#0e1845" stroke-width="1.1"/>
<rect x="184.64" y="555.80" width="7.50" height="109.30" fill="#f01c22" stroke="#4a1010" stroke-width="1.1"/>
<path transform="translate(172.01,693.00) scale(0.00903,-0.00939)" d="M763,0L583,0L583,1098Q518,1038 412.5,979Q307,920 223,890L223,1057Q374,1125 486.5,1221Q599,1317 646,1409L763,1409Z" fill="#111"/>
<text transform="translate(182.30,693.00) scale(1,1.04)" font-size="18.5" text-anchor="middle" font-weight="normal" fill="#111" style="font-kerning:none" > 5</text>
<rect x="203.66" y="543.36" width="7.30" height="121.74" fill="#3450b0" stroke="#0e1845" stroke-width="1.1"/>
<rect x="215.26" y="551.02" width="7.50" height="114.08" fill="#f01c22" stroke="#4a1010" stroke-width="1.1"/>
<text transform="translate(212.00,693.00) scale(1,1.04)" font-size="18.5" text-anchor="middle" font-weight="normal" fill="#111" style="font-kerning:none" >20</text>
<rect x="234.28" y="571.84" width="7.30" height="93.26" fill="#3450b0" stroke="#0e1845" stroke-width="1.1"/>
<rect x="245.88" y="536.17" width="7.50" height="128.93" fill="#f01c22" stroke="#4a1010" stroke-width="1.1"/>
<text transform="translate(242.80,693.00) scale(1,1.04)" font-size="18.5" text-anchor="middle" font-weight="normal" fill="#111" style="font-kerning:none" >25</text>
<rect x="295.52" y="533.40" width="7.30" height="131.70" fill="#3450b0" stroke="#0e1845" stroke-width="1.1"/>
<text transform="translate(306.30,693.00) scale(1,1.04)" font-size="18.5" text-anchor="middle" font-weight="normal" fill="#111" style="font-kerning:none" >5</text>
<rect x="326.14" y="533.40" width="7.30" height="131.70" fill="#3450b0" stroke="#0e1845" stroke-width="1.1"/>
<path transform="translate(325.91,693.00) scale(0.00903,-0.00939)" d="M763,0L583,0L583,1098Q518,1038 412.5,979Q307,920 223,890L223,1057Q374,1125 486.5,1221Q599,1317 646,1409L763,1409Z" fill="#111"/>
<text transform="translate(336.20,693.00) scale(1,1.04)" font-size="18.5" text-anchor="middle" font-weight="normal" fill="#111" style="font-kerning:none" > 0</text>
<rect x="356.76" y="540.17" width="7.30" height="124.93" fill="#3450b0" stroke="#0e1845" stroke-width="1.1"/>
<rect x="368.36" y="557.01" width="7.50" height="108.09" fill="#f01c22" stroke="#4a1010" stroke-width="1.1"/>
<path transform="translate(356.31,693.00) scale(0.00903,-0.00939)" d="M763,0L583,0L583,1098Q518,1038 412.5,979Q307,920 223,890L223,1057Q374,1125 486.5,1221Q599,1317 646,1409L763,1409Z" fill="#111"/>
<text transform="translate(366.60,693.00) scale(1,1.04)" font-size="18.5" text-anchor="middle" font-weight="normal" fill="#111" style="font-kerning:none" > 5</text>
<rect x="387.38" y="543.59" width="7.30" height="121.51" fill="#3450b0" stroke="#0e1845" stroke-width="1.1"/>
<rect x="398.98" y="550.78" width="7.50" height="114.32" fill="#f01c22" stroke="#4a1010" stroke-width="1.1"/>
<text transform="translate(396.60,693.00) scale(1,1.04)" font-size="18.5" text-anchor="middle" font-weight="normal" fill="#111" style="font-kerning:none" >20</text>
<rect x="418.00" y="573.63" width="7.30" height="91.47" fill="#3450b0" stroke="#0e1845" stroke-width="1.1"/>
<rect x="429.60" y="535.93" width="7.50" height="129.17" fill="#f01c22" stroke="#4a1010" stroke-width="1.1"/>
<text transform="translate(427.70,693.00) scale(1,1.04)" font-size="18.5" text-anchor="middle" font-weight="normal" fill="#111" style="font-kerning:none" >25</text>
<rect x="479.24" y="533.40" width="7.30" height="131.70" fill="#3450b0" stroke="#0e1845" stroke-width="1.1"/>
<rect x="490.84" y="651.31" width="7.50" height="13.79" fill="#f01c22" stroke="#4a1010" stroke-width="1.1"/>
<text transform="translate(489.30,693.00) scale(1,1.04)" font-size="18.5" text-anchor="middle" font-weight="normal" fill="#111" style="font-kerning:none" >5</text>
<rect x="509.86" y="535.91" width="7.30" height="129.19" fill="#3450b0" stroke="#0e1845" stroke-width="1.1"/>
<rect x="521.46" y="574.93" width="7.50" height="90.17" fill="#f01c22" stroke="#4a1010" stroke-width="1.1"/>
<path transform="translate(508.91,693.00) scale(0.00903,-0.00939)" d="M763,0L583,0L583,1098Q518,1038 412.5,979Q307,920 223,890L223,1057Q374,1125 486.5,1221Q599,1317 646,1409L763,1409Z" fill="#111"/>
<text transform="translate(519.20,693.00) scale(1,1.04)" font-size="18.5" text-anchor="middle" font-weight="normal" fill="#111" style="font-kerning:none" > 0</text>
<rect x="540.48" y="540.66" width="7.30" height="124.44" fill="#3450b0" stroke="#0e1845" stroke-width="1.1"/>
<rect x="552.08" y="555.49" width="7.50" height="109.61" fill="#f01c22" stroke="#4a1010" stroke-width="1.1"/>
<path transform="translate(539.31,693.00) scale(0.00903,-0.00939)" d="M763,0L583,0L583,1098Q518,1038 412.5,979Q307,920 223,890L223,1057Q374,1125 486.5,1221Q599,1317 646,1409L763,1409Z" fill="#111"/>
<text transform="translate(549.60,693.00) scale(1,1.04)" font-size="18.5" text-anchor="middle" font-weight="normal" fill="#111" style="font-kerning:none" > 5</text>
<rect x="571.10" y="543.59" width="7.30" height="121.51" fill="#3450b0" stroke="#0e1845" stroke-width="1.1"/>
<rect x="582.70" y="550.50" width="7.50" height="114.60" fill="#f01c22" stroke="#4a1010" stroke-width="1.1"/>
<text transform="translate(580.00,693.00) scale(1,1.04)" font-size="18.5" text-anchor="middle" font-weight="normal" fill="#111" style="font-kerning:none" >20</text>
<rect x="601.72" y="574.60" width="7.30" height="90.50" fill="#3450b0" stroke="#0e1845" stroke-width="1.1"/>
<rect x="613.32" y="535.74" width="7.50" height="129.36" fill="#f01c22" stroke="#4a1010" stroke-width="1.1"/>
<text transform="translate(610.80,693.00) scale(1,1.04)" font-size="18.5" text-anchor="middle" font-weight="normal" fill="#111" style="font-kerning:none" >25</text>
<rect x="115" y="696.4" width="138.10" height="3.7" fill="#000"/>
<path transform="translate(199.11,717.90) scale(0.00903,-0.00939)" d="M763,0L583,0L583,1098Q518,1038 412.5,979Q307,920 223,890L223,1057Q374,1125 486.5,1221Q599,1317 646,1409L763,1409Z" fill="#111"/>
<text transform="translate(185.75,717.90) scale(1,1.04)" font-size="18.5" text-anchor="middle" font-weight="normal" fill="#111" style="font-kerning:none" >Exp. </text>
<rect x="300" y="696.4" width="138.70" height="3.7" fill="#000"/>
<text transform="translate(370.30,717.90) scale(1,1.04)" font-size="18.5" text-anchor="middle" font-weight="normal" fill="#111" style="font-kerning:none" >Exp.2</text>
<rect x="482.3" y="696.4" width="139.20" height="3.7" fill="#000"/>
<text transform="translate(553.80,717.90) scale(1,1.04)" font-size="18.5" text-anchor="middle" font-weight="normal" fill="#111" style="font-kerning:none" >Exp.3</text>
<path transform="translate(175.87,525.70) scale(0.00571,-0.00623)" d="M763,0L583,0L583,1098Q518,1038 412.5,979Q307,920 223,890L223,1057Q374,1125 486.5,1221Q599,1317 646,1409L763,1409Z" fill="#c8283a"/>
<text transform="translate(180.75,525.70) scale(1,1.09)" font-size="11.7" text-anchor="middle" font-weight="normal" fill="#c8283a" style="font-kerning:none" >3 .0</text>
<text transform="translate(211.50,525.70) scale(1,1.09)" font-size="11.7" text-anchor="middle" font-weight="normal" fill="#c8283a" style="font-kerning:none" >39.8</text>
<text transform="translate(240.90,525.70) scale(1,1.09)" font-size="11.7" text-anchor="middle" font-weight="normal" fill="#c8283a" style="font-kerning:none" >86.5</text>
<path transform="translate(374.28,525.70) scale(0.00571,-0.00623)" d="M763,0L583,0L583,1098Q518,1038 412.5,979Q307,920 223,890L223,1057Q374,1125 486.5,1221Q599,1317 646,1409L763,1409Z" fill="#c8283a"/>
<text transform="translate(369.40,525.70) scale(1,1.09)" font-size="11.7" text-anchor="middle" font-weight="normal" fill="#c8283a" style="font-kerning:none" >29. </text>
<text transform="translate(400.50,525.70) scale(1,1.09)" font-size="11.7" text-anchor="middle" font-weight="normal" fill="#c8283a" style="font-kerning:none" >40.3</text>
<text transform="translate(430.10,525.70) scale(1,1.09)" font-size="11.7" text-anchor="middle" font-weight="normal" fill="#c8283a" style="font-kerning:none" >87.6</text>
<path transform="translate(507.11,525.70) scale(0.00571,-0.00623)" d="M763,0L583,0L583,1098Q518,1038 412.5,979Q307,920 223,890L223,1057Q374,1125 486.5,1221Q599,1317 646,1409L763,1409Z" fill="#c8283a"/>
<path transform="translate(513.62,525.70) scale(0.00571,-0.00623)" d="M763,0L583,0L583,1098Q518,1038 412.5,979Q307,920 223,890L223,1057Q374,1125 486.5,1221Q599,1317 646,1409L763,1409Z" fill="#c8283a"/>
<text transform="translate(518.50,525.70) scale(1,1.09)" font-size="11.7" text-anchor="middle" font-weight="normal" fill="#c8283a" style="font-kerning:none" >  .4</text>
<path transform="translate(545.02,525.70) scale(0.00571,-0.00623)" d="M763,0L583,0L583,1098Q518,1038 412.5,979Q307,920 223,890L223,1057Q374,1125 486.5,1221Q599,1317 646,1409L763,1409Z" fill="#c8283a"/>
<text transform="translate(549.90,525.70) scale(1,1.09)" font-size="11.7" text-anchor="middle" font-weight="normal" fill="#c8283a" style="font-kerning:none" >3 .5</text>
<text transform="translate(580.80,525.70) scale(1,1.09)" font-size="11.7" text-anchor="middle" font-weight="normal" fill="#c8283a" style="font-kerning:none" >40.9</text>
<text transform="translate(609.90,525.70) scale(1,1.09)" font-size="11.7" text-anchor="middle" font-weight="normal" fill="#c8283a" style="font-kerning:none" >88.5</text>
<path transform="translate(63.93,540.41) scale(0.00903,-0.00939)" d="M763,0L583,0L583,1098Q518,1038 412.5,979Q307,920 223,890L223,1057Q374,1125 486.5,1221Q599,1317 646,1409L763,1409Z" fill="#111"/>
<text transform="translate(94.80,540.41) scale(1,1.04)" font-size="18.5" text-anchor="end" font-weight="normal" fill="#111" style="font-kerning:none" > 00</text>
<path transform="translate(74.22,584.45) scale(0.00903,-0.00939)" d="M763,0L583,0L583,1098Q518,1038 412.5,979Q307,920 223,890L223,1057Q374,1125 486.5,1221Q599,1317 646,1409L763,1409Z" fill="#111"/>
<text transform="translate(94.80,584.45) scale(1,1.04)" font-size="18.5" text-anchor="end" font-weight="normal" fill="#111" style="font-kerning:none" > 0</text>
<path transform="translate(84.51,628.48) scale(0.00903,-0.00939)" d="M763,0L583,0L583,1098Q518,1038 412.5,979Q307,920 223,890L223,1057Q374,1125 486.5,1221Q599,1317 646,1409L763,1409Z" fill="#111"/>
<text transform="translate(94.80,628.48) scale(1,1.04)" font-size="18.5" text-anchor="end" font-weight="normal" fill="#111" style="font-kerning:none" > </text>
<path transform="translate(84.51,672.51) scale(0.00903,-0.00939)" d="M763,0L583,0L583,1098Q518,1038 412.5,979Q307,920 223,890L223,1057Q374,1125 486.5,1221Q599,1317 646,1409L763,1409Z" fill="#111"/>
<text transform="translate(94.80,672.51) scale(1,1.04)" font-size="18.5" text-anchor="end" font-weight="normal" fill="#111" style="font-kerning:none" >0. </text>
<text transform="translate(363.10,503.20) scale(1,1.05)" font-size="21.3" text-anchor="middle" font-weight="bold" fill="#e61e28" style="font-kerning:none" >L-3750</text>
<text transform="translate(4.80,504.30) scale(1,1.0)" font-size="23" text-anchor="start" font-weight="bold" fill="#000" style="font-kerning:none" >(e)</text>
<text transform="translate(24.90,603.50) rotate(-90)" font-size="18.5" text-anchor="middle" fill="#111" style="font-kerning:none">Relative RNA</text>
<text transform="translate(45.50,597.00) rotate(-90)" font-size="18.65" text-anchor="middle" fill="#111" style="font-kerning:none">copy numbers (%)</text>
</svg></body></html>
